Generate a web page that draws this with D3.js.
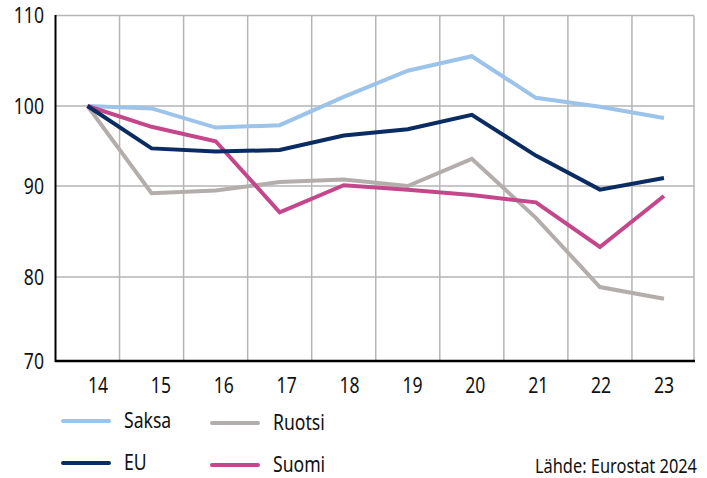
<!DOCTYPE html>
<html>
<head>
<meta charset="utf-8">
<script src="https://cdn.jsdelivr.net/npm/d3@7"></script>
<style>
  body { margin: 0; background: #fff; }
  text { font-family: "Noto Sans", "DejaVu Sans", sans-serif; fill: #111; }
</style>
</head>
<body>
<div id="chart"></div>
<script>
// years on the x axis (2014-2023)
var years = ["14", "15", "16", "17", "18", "19", "20", "21", "22", "23"];
var yTicks = [70, 80, 90, 100, 110];

var saksa  = [100, 99.7, 97.3, 97.6, 101.0, 103.9, 105.5, 100.9, 99.9, 98.5];
var eu     = [100, 94.7, 94.3, 94.5, 96.3, 97.1, 98.9, 93.8, 89.6, 91.0];
var ruotsi = [100, 89.2, 89.5, 90.5, 90.8, 90.0, 93.4, 86.5, 78.8, 77.4];
var suomi  = [100, 97.4, 95.6, 87.1, 90.1, 89.6, 89.0, 88.2, 83.3, 88.9];

var seriesNames = ["Ruotsi", "Saksa", "Suomi", "EU"];
var seriesData = [ruotsi, saksa, suomi, eu];
var colors = { Saksa: "#9cc3e9", EU: "#0b2c62", Ruotsi: "#b3aeab", Suomi: "#c4478b" };

var width = 707, height = 478;
var squeeze = 0.8; // the original uses a condensed face

var svg = d3.select("#chart")
	.append("svg")
	.attr("width", width)
	.attr("height", height);

var x = d3.scaleBand()
	.domain(years)
	.range([55.5, 696]);

// tick labels sit slightly to the right of the bands in the original
var xLabel = d3.scalePoint()
	.domain(years)
	.range([98, 664]);

// the original gridlines are not evenly spaced
var y = d3.scaleLinear()
	.domain([70, 80, 90, 100, 110])
	.range([361, 277, 186, 106, 15.5]);

function at(px, py) {
	return "translate(" + px + "," + py + ") scale(" + squeeze + ",1)";
}

// horizontal gridlines
svg.append("g")
	.selectAll("line")
	.data(yTicks.filter(d => d > 70))
	.enter().append("line")
	.attr("x1", 55)
	.attr("x2", 694)
	.attr("y1", d => y(d))
	.attr("y2", d => y(d))
	.attr("stroke", "#b5b5b5")
	.attr("stroke-width", 1.5);

// vertical gridlines between years
svg.append("g")
	.selectAll("line")
	.data(years.slice(1))
	.enter().append("line")
	.attr("x1", d => x(d))
	.attr("x2", d => x(d))
	.attr("y1", y(110))
	.attr("y2", y(70))
	.attr("stroke", "#b5b5b5")
	.attr("stroke-width", 1.5);

svg.append("line")
	.attr("x1", 694).attr("x2", 694)
	.attr("y1", y(110)).attr("y2", y(70))
	.attr("stroke", "#b5b5b5")
	.attr("stroke-width", 1.5);

// axes
svg.append("line")
	.attr("x1", 55.5).attr("x2", 55.5)
	.attr("y1", y(110) - 0.5).attr("y2", y(70) + 1)
	.attr("stroke", "#000")
	.attr("stroke-width", 2);

svg.append("line")
	.attr("x1", 55).attr("x2", 695)
	.attr("y1", y(70)).attr("y2", y(70))
	.attr("stroke", "#000")
	.attr("stroke-width", 2.5);

svg.append("g")
	.selectAll("text")
	.data(yTicks)
	.enter().append("text")
	.attr("transform", d => at(44, y(d)))
	.attr("dy", "0.36em")
	.attr("text-anchor", "end")
	.attr("font-size", "22px")
	.text(d => d);

svg.append("g")
	.selectAll("text")
	.data(years)
	.enter().append("text")
	.attr("transform", d => at(xLabel(d), 385))
	.attr("dy", "0.36em")
	.attr("text-anchor", "middle")
	.attr("font-size", "22px")
	.text(d => d);

// lines
var line = d3.line()
	.x((d, i) => x(years[i]) + x.bandwidth() / 2)
	.y(d => y(d));

svg.append("g")
	.selectAll("path")
	.data(seriesData)
	.enter().append("path")
	.attr("d", d => line(d))
	.attr("fill", "none")
	.attr("stroke", (d, i) => colors[seriesNames[i]])
	.attr("stroke-width", 4)
	.attr("stroke-linejoin", "miter");

// legend
var legend = [
	{ name: "Saksa", x: 63, y: 421 },
	{ name: "Ruotsi", x: 212, y: 423 },
	{ name: "EU", x: 63, y: 463 },
	{ name: "Suomi", x: 212, y: 465 }
];

var lg = svg.append("g")
	.selectAll("g")
	.data(legend)
	.enter().append("g")
	.attr("transform", d => "translate(" + d.x + "," + d.y + ")");

lg.append("line")
	.attr("x1", 0).attr("x2", 46)
	.attr("y1", 0).attr("y2", 0)
	.attr("stroke", d => colors[d.name])
	.attr("stroke-width", 4)
	.attr("stroke-linecap", "round");

lg.append("text")
	.attr("transform", at(61, 0))
	.attr("dy", "0.34em")
	.attr("font-size", "22px")
	.text(d => d.name);

svg.append("text")
	.attr("transform", at(697, 466))
	.attr("dy", "0.35em")
	.attr("text-anchor", "end")
	.attr("font-size", "20.5px")
	.text("Lähde: Eurostat 2024");
</script>
</body>
</html>
